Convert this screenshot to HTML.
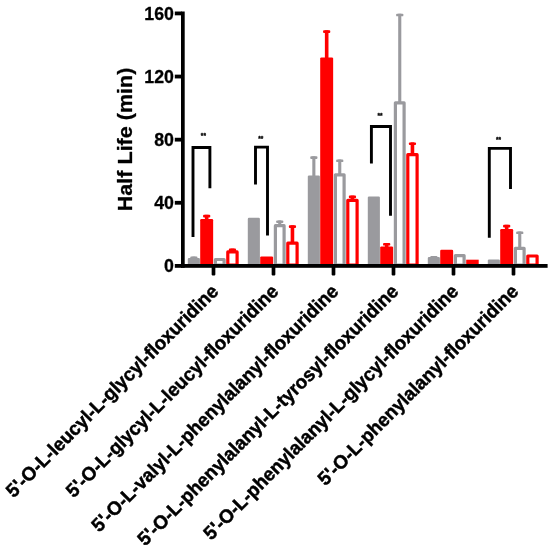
<!DOCTYPE html>
<html><head><meta charset="utf-8"><title>chart</title>
<style>
html,body{margin:0;padding:0;background:#fff;}
body{width:550px;height:549px;overflow:hidden;}
svg{display:block;font-family:"Liberation Sans",sans-serif;}
</style></head><body>
<svg width="550" height="549" viewBox="0 0 550 549">
<defs><filter id="b" x="0" y="0" width="550" height="549" filterUnits="userSpaceOnUse"><feGaussianBlur stdDeviation="0.45"/></filter></defs>
<rect width="550" height="549" fill="#fff"/>
<g filter="url(#b)" stroke-linejoin="round">
<rect x="192.30" y="256.60" width="3.1" height="2.30" fill="#9a9a9e"/>
<rect x="190.25" y="256.60" width="7.2" height="2.6" fill="#9a9a9e" rx="0.9"/>
<rect x="187.80" y="257.90" width="12.10" height="7.10" fill="#9a9a9e" rx="1.2"/>
<rect x="204.88" y="214.80" width="3.6" height="5.20" fill="#ff0000"/>
<rect x="203.08" y="214.80" width="7.2" height="2.6" fill="#ff0000" rx="0.9"/>
<rect x="200.20" y="219.00" width="12.95" height="46.00" fill="#ff0000" rx="1.2"/>
<rect x="215.40" y="259.50" width="8.70" height="5.70" fill="#fff" stroke="#9a9a9e" stroke-width="3.2"/>
<rect x="230.65" y="248.60" width="3.6" height="2.70" fill="#ff0000"/>
<rect x="228.85" y="248.60" width="7.2" height="2.6" fill="#ff0000" rx="0.9"/>
<rect x="227.80" y="251.90" width="9.30" height="13.30" fill="#fff" stroke="#ff0000" stroke-width="3.2"/>
<rect x="247.80" y="217.75" width="12.10" height="47.25" fill="#9a9a9e" rx="1.2"/>
<rect x="260.20" y="256.40" width="12.95" height="8.60" fill="#ff0000" rx="1.2"/>
<rect x="278.20" y="220.40" width="3.1" height="4.70" fill="#9a9a9e"/>
<rect x="276.15" y="220.40" width="7.2" height="2.6" fill="#9a9a9e" rx="0.9"/>
<rect x="275.40" y="225.70" width="8.70" height="39.50" fill="#fff" stroke="#9a9a9e" stroke-width="3.2"/>
<rect x="290.65" y="225.30" width="3.6" height="17.30" fill="#ff0000"/>
<rect x="288.85" y="225.30" width="7.2" height="2.6" fill="#ff0000" rx="0.9"/>
<rect x="287.80" y="243.20" width="9.30" height="22.00" fill="#fff" stroke="#ff0000" stroke-width="3.2"/>
<rect x="312.30" y="156.30" width="3.1" height="20.20" fill="#9a9a9e"/>
<rect x="310.25" y="156.30" width="7.2" height="2.6" fill="#9a9a9e" rx="0.9"/>
<rect x="307.80" y="175.50" width="12.10" height="89.50" fill="#9a9a9e" rx="1.2"/>
<rect x="324.88" y="30.30" width="3.6" height="28.10" fill="#ff0000"/>
<rect x="323.07" y="30.30" width="7.2" height="2.6" fill="#ff0000" rx="0.9"/>
<rect x="320.20" y="57.40" width="12.95" height="207.60" fill="#ff0000" rx="1.2"/>
<rect x="338.20" y="159.50" width="3.1" height="14.70" fill="#9a9a9e"/>
<rect x="336.15" y="159.50" width="7.2" height="2.6" fill="#9a9a9e" rx="0.9"/>
<rect x="335.40" y="174.80" width="8.70" height="90.40" fill="#fff" stroke="#9a9a9e" stroke-width="3.2"/>
<rect x="350.65" y="195.60" width="3.6" height="4.10" fill="#ff0000"/>
<rect x="348.85" y="195.60" width="7.2" height="2.6" fill="#ff0000" rx="0.9"/>
<rect x="347.80" y="200.30" width="9.30" height="64.90" fill="#fff" stroke="#ff0000" stroke-width="3.2"/>
<rect x="367.80" y="196.60" width="12.10" height="68.40" fill="#9a9a9e" rx="1.2"/>
<rect x="384.88" y="243.00" width="3.6" height="4.40" fill="#ff0000"/>
<rect x="383.07" y="243.00" width="7.2" height="2.6" fill="#ff0000" rx="0.9"/>
<rect x="380.20" y="246.40" width="12.95" height="18.60" fill="#ff0000" rx="1.2"/>
<rect x="398.20" y="13.70" width="3.1" height="88.50" fill="#9a9a9e"/>
<rect x="396.15" y="13.70" width="7.2" height="2.6" fill="#9a9a9e" rx="0.9"/>
<rect x="395.40" y="102.80" width="8.70" height="162.40" fill="#fff" stroke="#9a9a9e" stroke-width="3.2"/>
<rect x="410.65" y="142.40" width="3.6" height="11.70" fill="#ff0000"/>
<rect x="408.85" y="142.40" width="7.2" height="2.6" fill="#ff0000" rx="0.9"/>
<rect x="407.80" y="154.70" width="9.30" height="110.50" fill="#fff" stroke="#ff0000" stroke-width="3.2"/>
<rect x="432.30" y="256.00" width="3.1" height="1.90" fill="#9a9a9e"/>
<rect x="430.25" y="256.00" width="7.2" height="2.6" fill="#9a9a9e" rx="0.9"/>
<rect x="427.80" y="256.90" width="12.10" height="8.10" fill="#9a9a9e" rx="1.2"/>
<rect x="440.20" y="249.80" width="12.95" height="15.20" fill="#ff0000" rx="1.2"/>
<rect x="455.40" y="255.60" width="8.70" height="9.60" fill="#fff" stroke="#9a9a9e" stroke-width="3.2"/>
<rect x="466.20" y="259.70" width="12.50" height="5.30" fill="#ff0000"/>
<rect x="487.80" y="259.50" width="12.10" height="5.50" fill="#9a9a9e" rx="1.2"/>
<rect x="504.87" y="224.80" width="3.6" height="5.30" fill="#ff0000"/>
<rect x="503.07" y="224.80" width="7.2" height="2.6" fill="#ff0000" rx="0.9"/>
<rect x="500.20" y="229.10" width="12.95" height="35.90" fill="#ff0000" rx="1.2"/>
<rect x="518.20" y="231.50" width="3.1" height="16.20" fill="#9a9a9e"/>
<rect x="516.15" y="231.50" width="7.2" height="2.6" fill="#9a9a9e" rx="0.9"/>
<rect x="515.40" y="248.30" width="8.70" height="16.90" fill="#fff" stroke="#9a9a9e" stroke-width="3.2"/>
<rect x="527.80" y="256.00" width="9.30" height="9.20" fill="#fff" stroke="#ff0000" stroke-width="3.2"/>
<path d="M193.0 236.9 V147.5 H209.9 V188.2" fill="none" stroke="#000" stroke-width="2.9" stroke-linejoin="miter"/>
<text x="203.4" y="138.1" font-size="6.5" stroke="#000" stroke-width="0.3" font-weight="bold" text-anchor="middle" fill="#000">**</text>
<path d="M255.5 184.4 V147.1 H267.5 V235.6" fill="none" stroke="#000" stroke-width="2.9" stroke-linejoin="miter"/>
<text x="260.8" y="140.5" font-size="6.5" stroke="#000" stroke-width="0.3" font-weight="bold" text-anchor="middle" fill="#000">**</text>
<path d="M371.4 163.4 V126.5 H390.5 V215.7" fill="none" stroke="#000" stroke-width="2.9" stroke-linejoin="miter"/>
<text x="380.0" y="118.4" font-size="6.5" stroke="#000" stroke-width="0.3" font-weight="bold" text-anchor="middle" fill="#000">**</text>
<path d="M489.3 237.8 V148.4 H510.5 V188.9" fill="none" stroke="#000" stroke-width="2.9" stroke-linejoin="miter"/>
<text x="498.5" y="142.1" font-size="6.5" stroke="#000" stroke-width="0.3" font-weight="bold" text-anchor="middle" fill="#000">**</text>
<rect x="181" y="11.5" width="3.7" height="256.3" fill="#000"/>
<rect x="181" y="264" width="366.6" height="3.8" fill="#000" />
<rect x="174.8" y="264.00" width="7" height="3.8" fill="#000"/>
<text transform="translate(173.9,272.20) scale(0.955,1)" font-size="18.6" font-weight="bold" text-anchor="end" fill="#000" stroke="#000" stroke-width="0.3">0</text>
<rect x="174.8" y="200.88" width="7" height="3.8" fill="#000"/>
<text transform="translate(173.9,209.08) scale(0.955,1)" font-size="18.6" font-weight="bold" text-anchor="end" fill="#000" stroke="#000" stroke-width="0.3">40</text>
<rect x="174.8" y="137.76" width="7" height="3.8" fill="#000"/>
<text transform="translate(173.9,145.96) scale(0.955,1)" font-size="18.6" font-weight="bold" text-anchor="end" fill="#000" stroke="#000" stroke-width="0.3">80</text>
<rect x="174.8" y="74.64" width="7" height="3.8" fill="#000"/>
<text transform="translate(173.9,82.84) scale(0.955,1)" font-size="18.6" font-weight="bold" text-anchor="end" fill="#000" stroke="#000" stroke-width="0.3">120</text>
<rect x="174.8" y="11.52" width="7" height="3.8" fill="#000"/>
<text transform="translate(173.9,19.72) scale(0.955,1)" font-size="18.6" font-weight="bold" text-anchor="end" fill="#000" stroke="#000" stroke-width="0.3">160</text>
<rect x="211.65" y="266" width="3.7" height="9.4" fill="#000" rx="0.8"/>
<rect x="271.65" y="266" width="3.7" height="9.4" fill="#000" rx="0.8"/>
<rect x="331.65" y="266" width="3.7" height="9.4" fill="#000" rx="0.8"/>
<rect x="391.65" y="266" width="3.7" height="9.4" fill="#000" rx="0.8"/>
<rect x="451.65" y="266" width="3.7" height="9.4" fill="#000" rx="0.8"/>
<rect x="511.65" y="266" width="3.7" height="9.4" fill="#000" rx="0.8"/>
<text transform="translate(132.4,139.4) rotate(-90) scale(1.026,1)" font-size="21" font-weight="bold" text-anchor="middle" fill="#000" stroke="#000" stroke-width="0.3">Half Life (min)</text>
<text transform="translate(219.5,292.6) rotate(-45) scale(0.974,1)" font-size="19.2" font-weight="bold" text-anchor="end" fill="#000" stroke="#000" stroke-width="0.5">5'-O-L-leucyl-L-glycyl-floxuridine</text>
<text transform="translate(279.5,292.6) rotate(-45) scale(0.974,1)" font-size="19.2" font-weight="bold" text-anchor="end" fill="#000" stroke="#000" stroke-width="0.5">5'-O-L-glycyl-L-leucyl-floxuridine</text>
<text transform="translate(339.5,292.6) rotate(-45) scale(0.974,1)" font-size="19.2" font-weight="bold" text-anchor="end" fill="#000" stroke="#000" stroke-width="0.5">5'-O-L-valyl-L-phenylalanyl-floxuridine</text>
<text transform="translate(399.5,292.6) rotate(-45) scale(0.974,1)" font-size="19.2" font-weight="bold" text-anchor="end" fill="#000" stroke="#000" stroke-width="0.5">5'-O-L-phenylalanyl-L-tyrosyl-floxuridine</text>
<text transform="translate(459.5,292.6) rotate(-45) scale(0.974,1)" font-size="19.2" font-weight="bold" text-anchor="end" fill="#000" stroke="#000" stroke-width="0.5">5'-O-L-phenylalanyl-L-glycyl-floxuridine</text>
<text transform="translate(519.5,292.6) rotate(-45) scale(0.974,1)" font-size="19.2" font-weight="bold" text-anchor="end" fill="#000" stroke="#000" stroke-width="0.5">5'-O-L-phenylalanyl-floxuridine</text>
</g>
</svg>
</body></html>
